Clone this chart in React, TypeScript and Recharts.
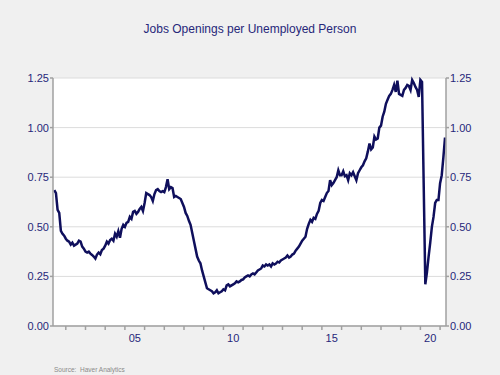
import { LineChart, Line, XAxis, YAxis, CartesianGrid } from 'recharts';

// job openings per unemployed person, monthly, Jun 2001 - Apr 2021
const startYear = 2001;
const startMonth = 6;

const ratio2001 = [0.685, 0.67, 0.585, 0.57, 0.48, 0.465, 0.455];
const ratio2002 = [0.44, 0.43, 0.425, 0.41, 0.42, 0.405, 0.41, 0.415, 0.43, 0.425, 0.4, 0.39];
const ratio2003 = [0.375, 0.37, 0.375, 0.365, 0.358, 0.35, 0.34, 0.36, 0.37, 0.362, 0.383, 0.39];
const ratio2004 = [0.405, 0.425, 0.415, 0.433, 0.44, 0.43, 0.465, 0.45, 0.478, 0.445, 0.49, 0.51];
const ratio2005 = [0.5, 0.52, 0.525, 0.55, 0.54, 0.575, 0.58, 0.565, 0.575, 0.59, 0.6, 0.58];
const ratio2006 = [0.62, 0.67, 0.665, 0.66, 0.65, 0.63, 0.665, 0.685, 0.69, 0.68, 0.675, 0.68];
const ratio2007 = [0.675, 0.7, 0.74, 0.69, 0.7, 0.695, 0.65, 0.655, 0.65, 0.645, 0.64, 0.62];
const ratio2008 = [0.6, 0.57, 0.555, 0.53, 0.51, 0.47, 0.43, 0.39, 0.35, 0.33, 0.316, 0.28];
const ratio2009 = [0.25, 0.22, 0.19, 0.185, 0.18, 0.175, 0.165, 0.17, 0.18, 0.165, 0.17, 0.175];
const ratio2010 = [0.185, 0.18, 0.205, 0.21, 0.2, 0.205, 0.21, 0.215, 0.225, 0.22, 0.225, 0.232];
const ratio2011 = [0.235, 0.245, 0.25, 0.255, 0.25, 0.26, 0.265, 0.26, 0.27, 0.28, 0.285, 0.29];
const ratio2012 = [0.305, 0.3, 0.31, 0.305, 0.31, 0.3, 0.316, 0.31, 0.315, 0.324, 0.32, 0.33];
const ratio2013 = [0.335, 0.34, 0.345, 0.355, 0.345, 0.35, 0.36, 0.365, 0.38, 0.39, 0.4, 0.415];
const ratio2014 = [0.43, 0.44, 0.45, 0.49, 0.515, 0.535, 0.525, 0.545, 0.54, 0.565, 0.58, 0.62];
const ratio2015 = [0.635, 0.63, 0.65, 0.67, 0.68, 0.735, 0.71, 0.72, 0.735, 0.75, 0.785, 0.76];
const ratio2016 = [0.76, 0.78, 0.755, 0.76, 0.735, 0.77, 0.76, 0.775, 0.755, 0.735, 0.77, 0.785];
const ratio2017 = [0.8, 0.81, 0.83, 0.845, 0.88, 0.92, 0.89, 0.9, 0.955, 0.94, 0.945, 1.0];
const ratio2018 = [1.01, 1.055, 1.08, 1.12, 1.14, 1.16, 1.17, 1.19, 1.215, 1.18, 1.236, 1.17];
const ratio2019 = [1.165, 1.16, 1.19, 1.2, 1.215, 1.21, 1.19, 1.24, 1.225, 1.205, 1.19, 1.155];
const ratio2020 = [1.24, 1.23, 0.72, 0.21, 0.27, 0.35, 0.42, 0.5, 0.55, 0.62, 0.635, 0.635];
const ratio2021 = [0.72, 0.76, 0.85, 0.95];

const ratio = [
  ...ratio2001, ...ratio2002, ...ratio2003, ...ratio2004, ...ratio2005, ...ratio2006,
  ...ratio2007, ...ratio2008, ...ratio2009, ...ratio2010, ...ratio2011, ...ratio2012,
  ...ratio2013, ...ratio2014, ...ratio2015, ...ratio2016, ...ratio2017, ...ratio2018,
  ...ratio2019, ...ratio2020, ...ratio2021,
];

const yearTicks = [2002, 2003, 2004, 2005, 2006, 2007, 2008, 2009, 2010, 2011,
  2012, 2013, 2014, 2015, 2016, 2017, 2018, 2019, 2020, 2021];
const labelYears = [2005, 2010, 2015, 2020];
const valueTicks = [0, 0.25, 0.5, 0.75, 1.0, 1.25];

const rows = ratio.map((v, i) => ({ t: startYear + (startMonth - 1 + i) / 12, v }));

const NAVY = '#27277a';
const LINE = '#0f0f5c';
const AXIS = '#a0a0a0';
const FONT = '"Liberation Sans", Arial, sans-serif';
const domainX: [number, number] = [2001.35, 2021.3];
const tickStyle = { fill: NAVY, fontSize: 11, fontFamily: FONT };

export default function App() {
  return (
    <div style={{ position: 'relative', width: 500, height: 375, background: '#f0f0f0', fontFamily: FONT }}>
      <style>{`body{margin:0}`}</style>
      <div style={{
        position: 'absolute', top: 22, left: 0, width: 500, textAlign: 'center',
        fontSize: 12, lineHeight: '14px', color: NAVY,
      }}>
        Jobs Openings per Unemployed Person
      </div>
      <LineChart width={500} height={375} data={rows} margin={{ top: 78, right: 0, bottom: 0, left: 0 }}>
        <CartesianGrid vertical={false} stroke="#dcdcdc" fill="#ffffff" xAxisId="a" yAxisId="left" />
        <XAxis
          xAxisId="a" type="number" dataKey="t" domain={domainX} allowDataOverflow
          ticks={yearTicks} tickFormatter={() => ''} tickSize={4} height={1}
          stroke={AXIS} strokeWidth={1.5}
        />
        <XAxis
          xAxisId="b" type="number" dataKey="t" domain={domainX} allowDataOverflow
          ticks={labelYears.map((y) => y + 0.5)}
          tickFormatter={(v: number) => String(Math.floor(v) % 100).padStart(2, '0')}
          axisLine={false} tickLine={false} tickSize={0} tickMargin={7} height={48}
          tick={tickStyle}
        />
        <YAxis
          yAxisId="left" orientation="left" width={53} domain={[0, 1.25]} ticks={valueTicks}
          tickFormatter={(v: number) => v.toFixed(2)} tickSize={3} tickMargin={1}
          stroke={AXIS} strokeWidth={1.5} tick={tickStyle}
        />
        <YAxis
          yAxisId="right" orientation="right" width={54} domain={[0, 1.25]} ticks={valueTicks}
          tickFormatter={(v: number) => v.toFixed(2)} tickSize={3} tickMargin={1}
          stroke={AXIS} strokeWidth={1.5} tick={tickStyle}
        />
        <Line
          xAxisId="b" yAxisId="right" type="linear" dataKey="v" stroke="none"
          dot={false} activeDot={false} isAnimationActive={false}
        />
        <Line
          xAxisId="a" yAxisId="left" type="linear" dataKey="v" stroke={LINE}
          strokeWidth={2.5} dot={false} isAnimationActive={false}
        />
      </LineChart>
      <div style={{
        position: 'absolute', top: 366, left: 54, fontSize: 6.5, lineHeight: '8px', color: '#8a8a8a',
      }}>
        Source:&nbsp; Haver Analytics
      </div>
    </div>
  );
}
